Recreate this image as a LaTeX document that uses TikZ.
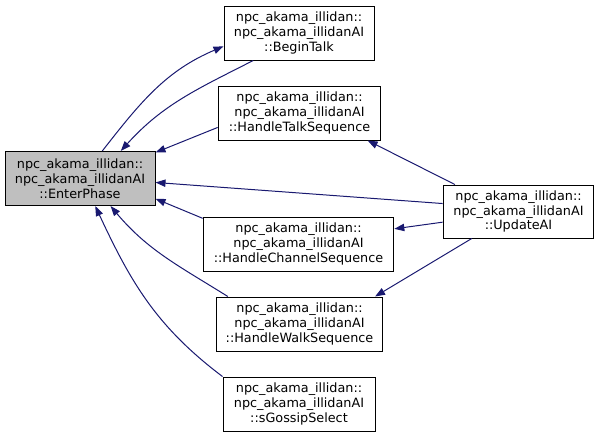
\documentclass[tikz,border=0pt]{standalone}
\usepackage{fontspec}
\setmainfont{DejaVu Sans}
\usetikzlibrary{arrows.meta}
\definecolor{edgeblue}{HTML}{191970}

\begin{document}
\begin{tikzpicture}[x=0.75pt,y=-0.75pt,
  fn/.style={draw=black, line width=0.75pt, align=center, minimum height=40.5pt, inner sep=0pt,
    font=\fontsize{9.6}{11.2}\selectfont},
  call/.style={draw=edgeblue, line width=0.75pt, -{Triangle[length=7.5pt,width=5.5pt]}}]
\useasboundingbox (0,0) rectangle (599,437);
% the function whose callers are shown
\node[fn, fill=gray!50, minimum width=112.5pt] (enter) at (80,178.5)
  {npc\_akama\_illidan::\\npc\_akama\_illidanAI\\::EnterPhase};
% callers
\node[fn, minimum width=112.5pt] (begin) at (299,33)
  {npc\_akama\_illidan::\\npc\_akama\_illidanAI\\::BeginTalk};
\node[fn, minimum width=122pt] (talk) at (299.5,113)
  {npc\_akama\_illidan::\\npc\_akama\_illidanAI\\::HandleTalkSequence};
\node[fn, minimum width=143pt] (channel) at (298.5,244)
  {npc\_akama\_illidan::\\npc\_akama\_illidanAI\\::HandleChannelSequence};
\node[fn, minimum width=125pt] (walk) at (299.5,324)
  {npc\_akama\_illidan::\\npc\_akama\_illidanAI\\::HandleWalkSequence};
\node[fn, minimum width=114pt] (gossip) at (299,404)
  {npc\_akama\_illidan::\\npc\_akama\_illidanAI\\::sGossipSelect};
\node[fn, minimum width=113pt, minimum height=39.75pt] (update) at (518.5,211.5)
  {npc\_akama\_illidan::\\npc\_akama\_illidanAI\\::UpdateAI};
% calls into EnterPhase
\draw[call] (enter.51) to[out=52,in=203] (begin.190);
\draw[call] (begin.211) to[out=207,in=48] (enter.34);
\draw[call] (talk.190) -- (enter.19);
\draw[call] (update.174) -- (enter.-3);
\draw[call] (channel.165) -- (enter.-15);
\draw[call] (walk.159) to[out=148,in=-50] (enter.-42);
\draw[call] (gossip.north west) to[out=143,in=-65] (enter.-61);
% calls from UpdateAI
\draw[call] (update.157) -- (talk.-22);
\draw[call] (update.188) -- (channel.9);
\draw[call] (update.210) -- (walk.20);
\end{tikzpicture}
\end{document}
